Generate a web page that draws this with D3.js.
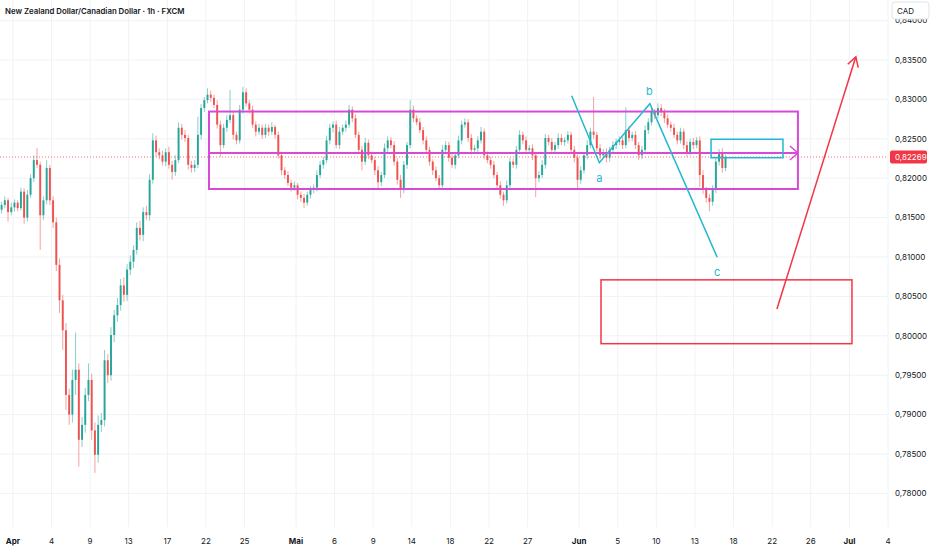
<!DOCTYPE html>
<html>
<head>
<meta charset="utf-8">
<script src="https://cdn.jsdelivr.net/npm/d3@7"></script>
<style>
  body { margin: 0; background: #fff; }
  svg { display: block; font-family: Inter, "Noto Sans", sans-serif; }
</style>
</head>
<body>
<div id="chart"></div>
<script>
// NZD/CAD, 4 candles per trading day, starting Mon 31 Mar
const candlesPerDay = 4;
const firstOpen = 0.8160;
const close = [
  0.8166, 0.8172, 0.8157, 0.8163, 0.8169, 0.8162, 0.8183, 0.8150, 0.8179, 0.8200,
  0.8223, 0.8217, 0.8153, 0.8172, 0.8213, 0.8172, 0.8144, 0.8090, 0.8045, 0.8007,
  0.7925, 0.7900, 0.7944, 0.7957, 0.7868, 0.7887, 0.7925, 0.7944, 0.7880, 0.7849,
  0.7887, 0.7893, 0.7969, 0.7950, 0.8001, 0.8026, 0.8039, 0.8064, 0.8052, 0.8084,
  0.8094, 0.8109, 0.8137, 0.8128, 0.8157, 0.8153, 0.8198, 0.8248, 0.8233, 0.8229,
  0.8221, 0.8233, 0.8217, 0.8208, 0.8223, 0.8264, 0.8255, 0.8251, 0.8217, 0.8213,
  0.8217, 0.8255, 0.8289, 0.8299, 0.8306, 0.8302, 0.8293, 0.8268, 0.8242, 0.8264,
  0.8274, 0.8280, 0.8255, 0.8248, 0.8287, 0.8309, 0.8295, 0.8287, 0.8268, 0.8259,
  0.8264, 0.8255, 0.8264, 0.8259, 0.8265, 0.8255, 0.8229, 0.8210, 0.8204, 0.8194,
  0.8188, 0.8191, 0.8179, 0.8175, 0.8169, 0.8179, 0.8185, 0.8188, 0.8204, 0.8217,
  0.8223, 0.8248, 0.8264, 0.8268, 0.8242, 0.8259, 0.8264, 0.8268, 0.8287, 0.8276,
  0.8255, 0.8236, 0.8221, 0.8245, 0.8229, 0.8223, 0.8210, 0.8195, 0.8204, 0.8238,
  0.8248, 0.8242, 0.8221, 0.8198, 0.8185, 0.8217, 0.8242, 0.8287, 0.8276, 0.8271,
  0.8261, 0.8248, 0.8236, 0.8221, 0.8210, 0.8200, 0.8191, 0.8236, 0.8242, 0.8226,
  0.8217, 0.8229, 0.8248, 0.8268, 0.8271, 0.8251, 0.8236, 0.8238, 0.8248, 0.8259,
  0.8229, 0.8223, 0.8217, 0.8204, 0.8191, 0.8179, 0.8172, 0.8191, 0.8221, 0.8217,
  0.8236, 0.8255, 0.8248, 0.8236, 0.8238, 0.8229, 0.8200, 0.8204, 0.8217, 0.8251,
  0.8246, 0.8236, 0.8242, 0.8251, 0.8246, 0.8248, 0.8255, 0.8236, 0.8226, 0.8198,
  0.8210, 0.8229, 0.8242, 0.8259, 0.8255, 0.8238, 0.8229, 0.8233, 0.8226, 0.8236,
  0.8242, 0.8246, 0.8248, 0.8242, 0.8261, 0.8251, 0.8255, 0.8242, 0.8229, 0.8236,
  0.8261, 0.8271, 0.8284, 0.8280, 0.8289, 0.8284, 0.8276, 0.8268, 0.8264, 0.8255,
  0.8248, 0.8259, 0.8242, 0.8233, 0.8246, 0.8242, 0.8248, 0.8204, 0.8185, 0.8175,
  0.8170, 0.8185, 0.8221, 0.8233, 0.8213, 0.82269
];
// wick lengths beyond the body, in pips
const wickUp = [
  4,5,3,6,4,3,5,4,6,5, 6,15,4,5,10,4,5,6,8,7, 9,8,13,47,8,10,9,21,8,10,
  12,9,13,8,10,7,9,8,10,7, 8,6,7,9,6,8,7,9,6,5, 6,5,7,5,6,7,5,6,4,5,
  6,23,5,4,8,5,4,6,5,5, 6,32,5,4,6,7,5,4,5,4, 5,4,5,4,6,3,4,5,4,5,
  4,5,3,4,5,4,5,4,6,5, 4,6,5,4,5,6,4,5,6,4, 5,4,5,6,4,5,4,5,4,6,
  5,4,5,4,6,5,4,12,5,4, 5,4,5,4,3,5,4,6,5,4, 5,4,6,5,5,4,5,4,5,6,
  4,5,4,5,4,5,4,6,5,4, 5,6,4,5,4,5,4,5,6,5, 4,5,4,6,5,4,5,4,5,4,
  5,4,6,5,44,4,5,4,5,4, 5,4,5,4,29,5,4,5,4,5, 6,5,5,4,6,5,4,5,4,5,
  4,5,4,5,4,5,4,5,6,4, 5,6,5,4,5,3
];
const wickDn = [
  5,4,12,4,5,4,3,8,5,4, 5,4,44,6,5,6,7,8,16,25, 19,13,10,19,34,9,10,8,12,23,
  10,9,8,10,7,9,8,7,9,8, 7,8,6,7,8,6,7,5,6,5, 5,6,5,10,5,4,6,5,6,6,
  5,4,6,5,4,5,4,5,15,4, 5,4,6,5,4,5,4,5,4,6, 4,5,4,5,4,5,4,6,5,4,
  5,4,6,5,7,4,5,4,5,4, 5,4,5,6,4,5,4,5,4,5, 4,5,11,4,5,4,6,10,5,4,
  5,4,5,6,10,4,5,4,5,4, 4,5,4,5,6,4,6,5,4,5, 4,5,4,5,4,5,6,4,5,4,
  5,4,5,4,6,5,7,4,5,4, 5,4,5,4,5,6,24,5,4,5, 4,5,4,5,4,5,4,5,6,13,
  5,4,5,4,5,4,5,4,6,5, 4,5,4,5,4,5,4,5,6,5, 4,5,4,5,4,5,6,4,5,4,
  5,4,5,6,4,5,4,15,5,6, 12,5,4,5,6,4
];

// x ticks: trading-day index (Mon 31 Mar = 0)
const tickDays = [1, 4, 7, 10, 13, 16, 19, 23, 26, 29, 32, 35, 38, 41, 45, 48, 51, 54, 57, 60, 63, 66, 69];
const tickLabels = ["Apr", "4", "9", "13", "17", "22", "25", "Mai", "6", "9", "14", "18", "22", "27",
                    "Jun", "5", "10", "13", "18", "22", "26", "Jul", "4"];
const monthLabels = ["Apr", "Mai", "Jun", "Jul"];
const priceTicks = [0.78, 0.785, 0.79, 0.795, 0.80, 0.805, 0.81, 0.815, 0.82, 0.825, 0.83, 0.835, 0.84];
const lastPrice = 0.82269;

// drawings: [day start, day end, price top, price bottom]
const rangeBox = [16.24, 62.0, 0.82846, 0.81863];
const rangeMid = 0.8232;
const targetBox = [55.25, 60.84, 0.82494, 0.8226];
const zoneBox = [46.7, 66.2, 0.8071, 0.7990];
// abc wave: [day, price]
const wavePts = [[44.42, 0.83047], [46.57, 0.82197], [50.5, 0.82945], [55.73, 0.80996]];
const waveLabels = [["a", 46.57, 0.8200], ["b", 50.45, 0.83107], ["c", 55.73, 0.8081]];
const upArrow = [[60.37, 0.8034], [66.5, 0.8354]];

const width = 932, height = 550;
const plotRight = 888, plotBottom = 527;
const colUp = "#26a69a", colDn = "#ef5350";
const magenta = "#d64bd6", cyan = "#22b8cf", red = "#f23645";
const axisFont = "8px";

const svg = d3.select("#chart").append("svg")
    .attr("width", width)
    .attr("height", height);

svg.append("rect").attr("width", width).attr("height", height).attr("fill", "#fff");

const x = d3.scaleLinear().domain([0, 69]).range([0, plotRight]);
const y = d3.scaleLinear().domain([0.78, 0.835]).range([493.4, 60]);

// grid
svg.append("g").selectAll("line")
    .data(tickDays)
    .enter().append("line")
    .attr("x1", d => x(d)).attr("x2", d => x(d))
    .attr("y1", 0).attr("y2", plotBottom)
    .attr("stroke", "#f0f2f6");

svg.append("g").selectAll("line")
    .data(priceTicks)
    .enter().append("line")
    .attr("x1", 0).attr("x2", plotRight)
    .attr("y1", d => y(d)).attr("y2", d => y(d))
    .attr("stroke", "#f0f2f6");

// candles
const candles = close.map((c, i) => {
    let o = i === 0 ? firstOpen : close[i - 1];
    return {
        i: i, o: o, c: c,
        h: Math.max(o, c) + wickUp[i] / 10000,
        l: Math.min(o, c) - wickDn[i] / 10000
    };
});

const step = x(1 / candlesPerDay) - x(0);
const cx = d => x((d.i + 0.5) / candlesPerDay);

const cg = svg.append("g").selectAll("g")
    .data(candles)
    .enter().append("g");

cg.append("line")
    .attr("x1", cx).attr("x2", cx)
    .attr("y1", d => y(d.h)).attr("y2", d => y(d.l))
    .attr("stroke", d => d.c >= d.o ? colUp : colDn)
    .attr("stroke-opacity", 0.55)
    .attr("stroke-width", 1);

cg.append("rect")
    .attr("x", d => cx(d) - step * 0.3)
    .attr("width", step * 0.6)
    .attr("y", d => y(Math.max(d.o, d.c)))
    .attr("height", d => Math.max(1, Math.abs(y(d.o) - y(d.c))))
    .attr("fill", d => d.c >= d.o ? colUp : colDn);

// last price line
svg.append("line")
    .attr("x1", 0).attr("x2", plotRight)
    .attr("y1", y(lastPrice)).attr("y2", y(lastPrice))
    .attr("stroke", red)
    .attr("stroke-width", 1)
    .attr("stroke-dasharray", "1,2")
    .attr("opacity", 0.7);

// range rectangle + mid arrow
const boxAt = (b, color, w) => svg.append("rect")
    .attr("x", x(b[0])).attr("y", y(b[2]))
    .attr("width", x(b[1]) - x(b[0]))
    .attr("height", y(b[3]) - y(b[2]))
    .attr("fill", "none")
    .attr("stroke", color)
    .attr("stroke-width", w);

boxAt(rangeBox, magenta, 2);
svg.append("line")
    .attr("x1", x(rangeBox[0])).attr("x2", x(rangeBox[1]))
    .attr("y1", y(rangeMid)).attr("y2", y(rangeMid))
    .attr("stroke", magenta).attr("stroke-width", 2);
svg.append("path")
    .attr("d", `M${x(rangeBox[1]) - 8},${y(rangeMid) - 7}L${x(rangeBox[1])},${y(rangeMid)}L${x(rangeBox[1]) - 8},${y(rangeMid) + 7}`)
    .attr("fill", "none").attr("stroke", magenta).attr("stroke-width", 1.5);

boxAt(targetBox, cyan, 1.5);
boxAt(zoneBox, red, 1.5);

// abc wave
svg.append("path")
    .attr("d", d3.line().x(d => x(d[0])).y(d => y(d[1]))(wavePts))
    .attr("fill", "none")
    .attr("stroke", cyan)
    .attr("stroke-width", 1.5);

svg.selectAll(".waveLabel")
    .data(waveLabels)
    .enter().append("text")
    .attr("x", d => x(d[1])).attr("y", d => y(d[2]))
    .attr("text-anchor", "middle")
    .attr("dy", "0.35em")
    .attr("fill", cyan)
    .style("font-size", "11px")
    .text(d => d[0]);

// red up arrow
const ax1 = x(upArrow[0][0]), ay1 = y(upArrow[0][1]);
const ax2 = x(upArrow[1][0]), ay2 = y(upArrow[1][1]);
const ang = Math.atan2(ay2 - ay1, ax2 - ax1);
svg.append("line")
    .attr("x1", ax1).attr("y1", ay1).attr("x2", ax2).attr("y2", ay2)
    .attr("stroke", red).attr("stroke-width", 1.5);
const headLen = 11, headAng = Math.PI / 6;
svg.append("path")
    .attr("d", `M${ax2 - headLen * Math.cos(ang - headAng)},${ay2 - headLen * Math.sin(ang - headAng)}` +
               `L${ax2},${ay2}` +
               `L${ax2 - headLen * Math.cos(ang + headAng)},${ay2 - headLen * Math.sin(ang + headAng)}`)
    .attr("fill", "none").attr("stroke", red).attr("stroke-width", 1.5);

// price axis
const fmt = d => d3.format(".5f")(d).replace(".", ",");
svg.append("g").selectAll("text")
    .data(priceTicks)
    .enter().append("text")
    .attr("x", 895)
    .attr("y", d => y(d))
    .attr("dy", "0.35em")
    .attr("fill", "#131722")
    .style("font-size", axisFont)
    .text(fmt);

svg.append("rect")
    .attr("x", 890).attr("y", y(lastPrice) - 6.5)
    .attr("width", 37).attr("height", 13)
    .attr("rx", 2)
    .attr("fill", red);
svg.append("text")
    .attr("x", 895).attr("y", y(lastPrice))
    .attr("dy", "0.35em")
    .attr("fill", "#fff")
    .style("font-size", axisFont)
    .text(fmt(lastPrice));

svg.append("rect")
    .attr("x", 892).attr("y", 2)
    .attr("width", 37).attr("height", 17)
    .attr("rx", 3)
    .attr("fill", "#fff")
    .attr("stroke", "#e0e3eb");
svg.append("text")
    .attr("x", 897).attr("y", 11)
    .attr("dy", "0.35em")
    .attr("fill", "#131722")
    .style("font-size", axisFont)
    .text("CAD");

// time axis
svg.append("g").selectAll("text")
    .data(tickDays)
    .enter().append("text")
    .attr("x", d => x(d))
    .attr("y", 541)
    .attr("dy", "0.35em")
    .attr("text-anchor", "middle")
    .attr("fill", "#131722")
    .style("font-size", axisFont)
    .style("font-weight", (d, i) => monthLabels.includes(tickLabels[i]) ? 700 : 400)
    .text((d, i) => tickLabels[i]);

// title
svg.append("text")
    .attr("x", 5).attr("y", 14)
    .attr("fill", "#131722")
    .style("font-size", "7.8px")
    .style("font-weight", 600)
    .text("New Zealand Dollar/Canadian Dollar · 1h · FXCM");
</script>
</body>
</html>
